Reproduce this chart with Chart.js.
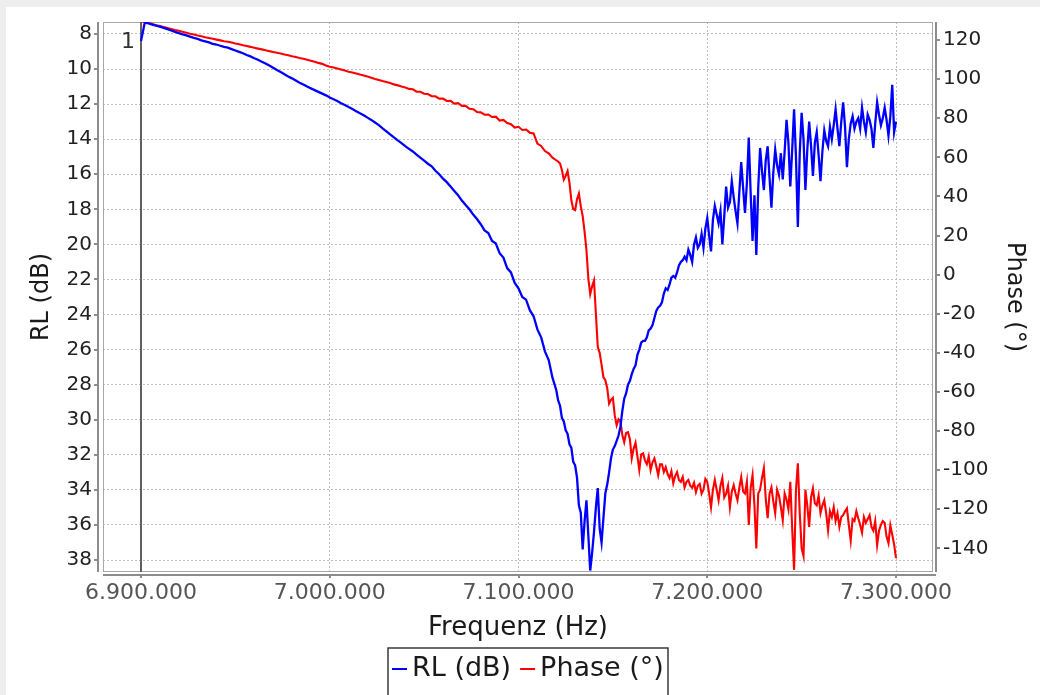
<!DOCTYPE html>
<html>
<head>
<meta charset="utf-8">
<script src="https://cdn.jsdelivr.net/npm/chart.js@4.4.1/dist/chart.umd.min.js"></script>
<style>
html,body{margin:0;padding:0;background:#fff;overflow:hidden}
#wrap{position:absolute;left:0;top:0;width:1040px;height:695px}
</style>
</head>
<body>
<div id="wrap"><canvas id="c" width="1040" height="695"></canvas></div>
<script>
// ---- data ----
const FREQ_KHZ = [
  6900,6902,6904,6906,6908,6910,6912,6914,6916,6918,
  6920,6922,6924,6926,6928,6930,6932,6934,6936,6938,
  6940,6942,6944,6946,6948,6950,6952,6954,6956,6958,
  6960,6962,6964,6966,6968,6970,6972,6974,6976,6978,
  6980,6982,6984,6986,6988,6990,6992,6994,6996,6998,
  7000,7002,7004,7006,7008,7010,7012,7014,7016,7018,
  7020,7022,7024,7026,7028,7030,7032,7034,7036,7038,
  7040,7042,7044,7046,7048,7050,7052,7054,7056,7058,
  7060,7062,7064,7066,7068,7070,7072,7074,7076,7078,
  7080,7082,7084,7086,7088,7090,7092,7094,7096,7098,
  7100,7102,7104,7106,7108,7110,7112,7114,7116,7118,
  7120,7121,7122,7123,7124,7125,7126,7127,7128,7129,
  7130,7131,7132,7133,7134,7135,7136,7137,7138,7139,
  7140,7141,7142,7143,7144,7145,7146,7147,7148,7149,
  7150,7151,7152,7153,7154,7155,7156,7157,7158,7159,
  7160,7161,7162,7163,7164,7165,7166,7167,7168,7169,
  7170,7171,7172,7173,7174,7175,7176,7177,7178,7179,
  7180,7181,7182,7183,7184,7185,7186,7187,7188,7189,
  7190,7191,7192,7193,7194,7195,7196,7197,7198,7199,
  7200,7201,7202,7203,7204,7205,7206,7207,7208,7209,
  7210,7211,7212,7213,7214,7215,7216,7217,7218,7219,
  7220,7221,7222,7223,7224,7225,7226,7227,7228,7229,
  7230,7231,7232,7233,7234,7235,7236,7237,7238,7239,
  7240,7241,7242,7243,7244,7245,7246,7247,7248,7249,
  7250,7251,7252,7253,7254,7255,7256,7257,7258,7259,
  7260,7261,7262,7263,7264,7265,7266,7267,7268,7269,
  7270,7271,7272,7273,7274,7275,7276,7277,7278,7279,
  7280,7281,7282,7283,7284,7285,7286,7287,7288,7289,
  7290,7291,7292,7293,7294,7295,7296,7297,7298,7299,
  7300
];
const RL_DB = [
  8.4,7.35,7.4,7.46,7.52,7.58,7.65,7.72,7.8,7.88,
  7.95,8.02,8.08,8.15,8.22,8.28,8.36,8.42,8.48,8.56,
  8.6,8.67,8.73,8.78,8.86,8.94,9.02,9.1,9.2,9.28,
  9.38,9.47,9.58,9.68,9.8,9.92,10.05,10.17,10.3,10.42,
  10.53,10.65,10.78,10.88,11.0,11.1,11.2,11.3,11.4,11.5,
  11.62,11.72,11.82,11.95,12.05,12.17,12.28,12.4,12.52,12.63,
  12.77,12.9,13.05,13.2,13.38,13.55,13.73,13.9,14.07,14.22,
  14.4,14.55,14.7,14.88,15.05,15.22,15.4,15.55,15.8,16.0,
  16.25,16.45,16.7,16.95,17.2,17.5,17.75,18.0,18.3,18.55,
  18.85,19.2,19.35,19.8,19.95,20.5,20.75,21.35,21.6,22.2,
  22.5,23.0,23.15,23.75,24.1,24.85,25.3,26.1,26.6,27.6,
  28.3,28.9,29.2,29.9,30.1,30.6,30.8,31.4,31.6,32.4,
  32.6,33.3,34.9,35.3,37.4,35.8,34.6,36.6,38.6,37.6,
  36.4,35.0,33.9,36.2,37.0,35.6,34.2,33.7,33.0,32.2,
  31.7,31.5,31.2,30.9,30.4,29.5,28.8,28.5,28.0,27.8,
  27.4,27.1,26.9,26.3,26.0,25.6,25.5,25.5,25.3,24.9,
  24.8,24.6,24.2,23.8,23.6,23.5,23.3,22.8,22.5,22.6,
  22.3,21.9,21.8,21.9,21.6,21.2,21.0,20.9,20.7,20.9,
  20.3,20.6,21.0,20.0,19.6,20.2,20.0,19.4,20.2,19.1,
  18.5,19.5,20.4,18.6,17.8,18.3,18.8,18.1,20.0,18.4,
  16.7,17.9,17.6,16.4,17.3,18.1,18.8,17.0,15.3,16.8,
  18.2,16.5,13.9,17.1,19.8,17.2,20.6,16.8,14.5,15.8,
  16.9,15.2,14.4,16.2,17.9,15.9,14.6,15.5,16.0,14.8,
  16.3,14.7,12.9,14.2,16.7,14.6,12.3,15.0,19.0,14.8,
  12.5,14.0,16.9,14.6,13.0,14.4,16.1,14.2,13.6,14.9,
  16.4,14.7,13.5,14.1,14.4,13.3,14.0,13.2,12.3,13.4,
  14.4,13.0,11.9,13.3,15.6,14.0,13.1,12.7,13.4,13.0,
  12.8,13.4,12.2,13.0,13.6,12.6,12.9,13.4,14.5,13.1,
  11.9,12.6,13.2,12.8,12.2,12.9,13.8,12.7,10.9,13.6,
  13.0
];
const PHASE_DEG = [
  129.5,129.2,128.7,128.2,127.6,127.1,126.6,126.1,125.6,125.1,
  124.7,124.2,123.7,123.2,122.8,122.3,121.9,121.4,121.0,120.6,
  120.2,119.8,119.4,119.1,118.7,118.2,117.8,117.3,116.9,116.5,
  116.0,115.6,115.2,114.8,114.3,113.9,113.5,113.1,112.6,112.2,
  111.7,111.3,110.8,110.4,109.9,109.4,108.9,108.3,107.8,107.0,
  106.3,105.9,105.4,104.9,104.4,103.8,103.4,102.9,102.3,101.8,
  101.3,100.7,100.1,99.6,99.0,98.5,98.0,97.3,96.8,96.2,
  95.7,95.0,94.8,93.6,93.5,92.5,92.4,91.3,91.2,90.0,
  90.0,88.8,88.9,87.5,87.7,86.3,86.3,84.8,84.6,83.2,
  83.0,81.8,81.9,80.6,80.8,78.8,79.1,77.5,76.9,75.2,
  75.6,74.0,74.2,72.6,72.2,67.0,65.8,63.2,62.0,59.8,
  58.5,57.8,56.8,53.5,48.5,50.5,53.0,47.0,38.0,33.5,
  33.0,38.5,41.5,35.0,30.0,22.0,12.5,-2.0,-10.0,-6.0,
  -3.0,-20.0,-37.0,-40.0,-46.0,-52.5,-54.0,-58.0,-66.0,-64.0,
  -63.0,-72.0,-77.0,-74.0,-75.0,-82.0,-85.7,-81.0,-80.6,-84.0,
  -94.0,-89.0,-86.0,-93.0,-100.0,-92.0,-91.4,-95.0,-97.0,-93.0,
  -100.0,-96.0,-94.0,-98.0,-102.6,-97.0,-97.0,-101.0,-98.5,-102.0,
  -104.0,-100.5,-106.7,-103.0,-101.0,-105.0,-106.0,-103.5,-108.8,-106.0,
  -105.0,-108.0,-109.0,-106.5,-111.3,-108.0,-107.0,-112.0,-110.0,-104.5,
  -106.0,-112.0,-119.0,-110.0,-105.0,-110.0,-115.4,-108.0,-104.0,-114.0,
  -112.0,-108.0,-119.0,-111.0,-107.7,-112.0,-115.4,-109.0,-103.6,-111.0,
  -112.0,-106.0,-128.0,-109.0,-102.6,-118.0,-140.0,-112.0,-110.0,-104.0,
  -99.0,-115.0,-124.6,-112.0,-108.8,-116.0,-122.0,-110.0,-113.0,-119.0,
  -125.6,-112.0,-115.0,-120.0,-106.0,-130.0,-151.0,-110.0,-96.5,-122.0,
  -140.0,-144.0,-110.0,-118.0,-129.0,-114.0,-109.3,-117.0,-118.0,-113.0,
  -122.0,-118.0,-115.4,-122.0,-130.8,-121.0,-124.0,-119.0,-126.0,-122.0,
  -129.0,-124.0,-123.0,-121.0,-119.5,-128.0,-136.0,-125.0,-126.0,-121.0,
  -124.6,-128.0,-132.0,-124.0,-127.0,-125.0,-123.0,-129.0,-131.0,-126.0,
  -138.4,-131.0,-128.0,-126.0,-127.0,-134.0,-137.4,-128.2,-133.0,-138.0,
  -145.0
];
const RL_TICKS = [8,10,12,14,16,18,20,22,24,26,28,30,32,34,36,38];
const PHASE_TICKS = [-140,-120,-100,-80,-60,-40,-20,0,20,40,60,80,100,120];
const FREQ_TICKS = [6900000,7000000,7100000,7200000,7300000];
const SERIES_LABELS = ['RL (dB)','Phase (°)'];
const SERIES_COLORS = ['#0000ff','#ff0000'];
const AXIS_TITLES = {x:'Frequenz (Hz)', y:'RL (dB)', y1:'Phase (°)'};
const MARKER_FREQ = 6900000;
const MARKER_LABEL = '1';

// ---- chart ----
const FONT = "'DejaVu Sans', sans-serif";
const fmt = v => String(Math.round(v)).replace(/\B(?=(\d{3})+(?!\d))/g, '.');
const noPad = s => { s.paddingTop = 0; s.paddingBottom = 0; s.paddingLeft = 0; s.paddingRight = 0; };

const bgPlugin = {
  id: 'bg',
  beforeDraw(chart) {
    const ctx = chart.ctx;
    ctx.save();
    ctx.fillStyle = '#eeeeee';
    ctx.fillRect(0, 0, chart.width, chart.height);
    ctx.fillStyle = '#ffffff';
    ctx.fillRect(6, 7, chart.width - 6, chart.height - 7);
    ctx.restore();
  }
};

const framePlugin = {
  id: 'frame',
  beforeDatasetsDraw(chart) {
    const {ctx, chartArea: a, scales} = chart;
    ctx.save();
    ctx.strokeStyle = '#a8a8a8';
    ctx.lineWidth = 1;
    ctx.strokeRect(a.left + 0.5, a.top + 0.5, a.right - a.left - 1, a.bottom - a.top - 1);
    // marker line
    const mx = Math.round(scales.x.getPixelForValue(MARKER_FREQ));
    ctx.strokeStyle = '#606060';
    ctx.lineWidth = 2;
    ctx.beginPath();
    ctx.moveTo(mx, a.top);
    ctx.lineTo(mx, a.bottom);
    ctx.stroke();
    ctx.fillStyle = '#333';
    ctx.font = "22px " + FONT;
    ctx.textAlign = 'right';
    ctx.textBaseline = 'middle';
    ctx.fillText(MARKER_LABEL, mx - 6, a.top + 20);
    ctx.restore();
  },
  afterDraw(chart) {
    const {ctx, chartArea: a, scales} = chart;
    ctx.save();
    ctx.strokeStyle = '#8c8c8c';
    ctx.lineWidth = 2;
    // left axis line + ticks
    const lx = a.left - 5;
    ctx.beginPath();
    ctx.moveTo(lx, a.top); ctx.lineTo(lx, a.bottom);
    RL_TICKS.forEach(v => { const y = Math.round(scales.y.getPixelForValue(v)); ctx.moveTo(lx - 4, y); ctx.lineTo(lx, y); });
    ctx.stroke();
    // right axis
    const rx = a.right + 3;
    ctx.beginPath();
    ctx.moveTo(rx, a.top); ctx.lineTo(rx, a.bottom);
    PHASE_TICKS.forEach(v => { const y = Math.round(scales.y1.getPixelForValue(v)); ctx.moveTo(rx, y); ctx.lineTo(rx + 4, y); });
    ctx.stroke();
    // bottom axis
    const by = a.bottom + 3;
    ctx.beginPath();
    ctx.moveTo(a.left, by); ctx.lineTo(a.right + 3, by);
    FREQ_TICKS.forEach(v => { const x = Math.round(scales.x.getPixelForValue(v)); ctx.moveTo(x, by); ctx.lineTo(x, by + 3); });
    ctx.stroke();

    // legend (box open at bottom)
    ctx.font = "27px " + FONT;
    ctx.textBaseline = 'middle';
    ctx.textAlign = 'left';
    let x = 392;
    const ly = 669;
    chart.data.datasets.forEach((ds, i) => {
      ctx.strokeStyle = ds.borderColor;
      ctx.lineWidth = 2;
      ctx.beginPath(); ctx.moveTo(x, ly); ctx.lineTo(x + 15, ly); ctx.stroke();
      x += 20;
      ctx.fillStyle = '#1a1a1a';
      ctx.fillText(ds.label, x, ly);
      x += ctx.measureText(ds.label).width + 9;
    });
    const right = Math.max(x - 6, 668);
    ctx.strokeStyle = '#3a3a3a';
    ctx.lineWidth = 1.5;
    ctx.beginPath();
    ctx.moveTo(388, chart.height); ctx.lineTo(388, 648); ctx.lineTo(right, 648); ctx.lineTo(right, chart.height);
    ctx.stroke();
    ctx.restore();
  }
};

const datasets = [
  {
    label: SERIES_LABELS[0],
    data: FREQ_KHZ.map((f, i) => ({x: f * 1000, y: RL_DB[i]})),
    yAxisID: 'y',
    borderColor: SERIES_COLORS[0],
    borderWidth: 2.3,
    pointRadius: 0,
    tension: 0
  },
  {
    label: SERIES_LABELS[1],
    data: FREQ_KHZ.map((f, i) => ({x: f * 1000, y: PHASE_DEG[i]})),
    yAxisID: 'y1',
    borderColor: SERIES_COLORS[1],
    borderWidth: 2.1,
    pointRadius: 0,
    tension: 0
  }
];

new Chart(document.getElementById('c'), {
  type: 'line',
  data: { datasets },
  plugins: [bgPlugin, framePlugin],
  options: {
    responsive: false,
    animation: false,
    devicePixelRatio: 1,
    layout: { padding: { left: 0, right: 0, top: 22, bottom: 47 } },
    plugins: { legend: { display: false }, tooltip: { enabled: false } },
    scales: {
      x: {
        type: 'linear',
        position: 'bottom',
        min: 6879870,
        max: 7319600,
        afterFit: s => { s.height = 76; noPad(s); },
        afterBuildTicks: s => { s.ticks = FREQ_TICKS.map(v => ({value: v})); },
        ticks: { autoSkip: false, maxRotation: 0, minRotation: 0, padding: 8, color: '#555555',
                 font: { family: FONT, size: 22 }, callback: v => fmt(v) },
        grid: { color: '#bdbdbd', lineWidth: 1, drawTicks: false },
        border: { display: false, dash: [2, 2] },
        title: { display: true, text: AXIS_TITLES.x, color: '#1a1a1a', font: { family: FONT, size: 26 },
                 padding: { top: 0, bottom: 4 } }
      },
      y: {
        type: 'linear',
        position: 'left',
        reverse: true,
        min: 7.316,
        max: 38.684,
        afterFit: s => { s.width = 103; noPad(s); },
        afterBuildTicks: s => { s.ticks = RL_TICKS.map(v => ({value: v})); },
        ticks: { padding: 11, color: '#222222', font: { family: FONT, size: 20 } },
        grid: { color: '#bdbdbd', lineWidth: 1, drawTicks: false },
        border: { display: false, dash: [2, 2] },
        title: { display: true, text: AXIS_TITLES.y, color: '#1a1a1a', font: { family: FONT, size: 24 },
                 padding: { top: 27, bottom: 0 } }
      },
      y1: {
        type: 'linear',
        position: 'right',
        min: -152.1,
        max: 129.21,
        afterFit: s => { s.width = 107; noPad(s); },
        afterBuildTicks: s => { s.ticks = PHASE_TICKS.map(v => ({value: v})); },
        ticks: { padding: 10, color: '#222222', font: { family: FONT, size: 20 } },
        grid: { display: false, drawOnChartArea: false, drawTicks: false },
        border: { display: false },
        title: { display: true, text: AXIS_TITLES.y1, color: '#1a1a1a', font: { family: FONT, size: 24 },
                 padding: { top: 11, bottom: 0 } }
      }
    }
  }
});
</script>
</body>
</html>
